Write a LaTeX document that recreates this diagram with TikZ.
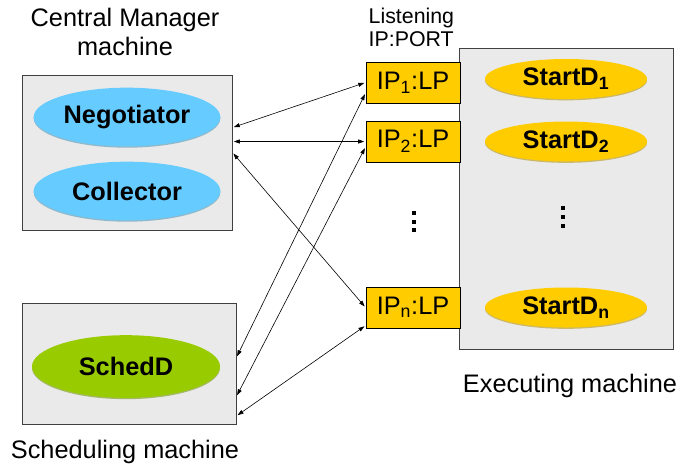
\documentclass[tikz,border=0pt]{standalone}
\usepackage{fontspec}
\setmainfont{Liberation Sans}
\usepackage{tikz}
\usetikzlibrary{arrows.meta, positioning, calc, shapes.geometric, shadows}
\definecolor{boxgray}{RGB}{234, 234, 234}
\definecolor{edgegray}{RGB}{64, 64, 64}
\definecolor{negoblue}{RGB}{102, 204, 255}
\definecolor{schedgreen}{RGB}{153, 204, 0}
\definecolor{portgold}{RGB}{255, 204, 0}

\tikzset{
    machine/.style={draw=edgegray, fill=boxgray, line width=0.7pt, inner sep=0pt},
    daemon/.style={ellipse, fill=#1, inner sep=0pt,
        font=\fontsize{19}{22}\selectfont\bfseries,
        drop shadow={shadow xshift=0pt, shadow yshift=-1pt, fill=#1!70!black, opacity=0.55}},
    portbox/.style={draw=black, fill=portgold, line width=0.7pt, inner sep=0pt,
        minimum width=70.5pt, minimum height=30.75pt, font=\fontsize{19}{22}\selectfont},
    machinetext/.style={font=\fontsize{19}{21.75}\selectfont, align=center},
    link/.style={<->, line width=0.45pt, shorten <=1pt, shorten >=1pt},
}

\begin{document}
\begin{tikzpicture}[x=0.75pt, y=-0.75pt, >={Triangle[length=4.5pt, width=3pt]}]
    \useasboundingbox (0,0) rectangle (680,469);

    % machines
    \node[machine, minimum width=157.5pt, minimum height=116.25pt] (cm) at (127,152.5) {};
    \node[machine, minimum width=160.5pt, minimum height=90.75pt] (sm) at (129,363.5) {};
    \node[machine, minimum width=160.5pt, minimum height=225.75pt] (em) at (566,198.5) {};

    % daemons
    \node[daemon=negoblue, minimum width=140pt, minimum height=44pt] (nego) at (127,117) {Negotiator};
    \node[daemon=negoblue, minimum width=140pt, minimum height=44pt] (coll) at (127,191) {Collector};
    \node[daemon=schedgreen, minimum width=141pt, minimum height=47pt] (schedd) at (126,366.5) {SchedD};
    \node[daemon=portgold, minimum width=121.5pt, minimum height=30pt] (sd1) at (566,79) {StartD\textsubscript{1}};
    \node[daemon=portgold, minimum width=121.5pt, minimum height=30pt] (sd2) at (566,141.5) {StartD\textsubscript{2}};
    \node[daemon=portgold, minimum width=121.5pt, minimum height=30pt] (sdn) at (566,307.5) {StartD\textsubscript{n}};

    % listening ports
    \node[portbox] (ip1) at (413,82.5) {IP\textsubscript{1}:LP};
    \node[portbox] (ip2) at (413,141.5) {IP\textsubscript{2}:LP};
    \node[portbox] (ipn) at (413,307.5) {IP\textsubscript{n}:LP};

    \foreach \y in {213,221.5,230} \fill (414,\y) ++(-2,-2) rectangle ++(4,4);
    \foreach \y in {207.5,216.5,225.5} \fill (563,\y) ++(-2,-2) rectangle ++(4,4);

    % captions
    \node[machinetext] (cmlabel) at (125,32) {Central Manager\\machine};
    \node[machinetext, font=\fontsize{16}{17.25}\selectfont, align=left, anchor=west] (portlabel) at (364,27) {Listening\\IP:PORT};
    \node[machinetext] (emlabel) at (570,386) {Executing machine};
    \node[machinetext] (smlabel) at (125,452) {Scheduling machine};

    % connections
    \draw[link] ($(cm.north east)!0.34!(cm.south east)$) -- (ip1.west);
    \draw[link] (cm.east |- ip2.west) -- (ip2.west);
    \draw[link] (cm.east) -- (ipn.west);
    \draw[link] ($(ip1.north west)!0.75!(ip1.south west)$) -- ($(sm.north east)!0.45!(sm.south east)$);
    \draw[link] ($(ip2.north west)!0.63!(ip2.south west)$) -- ($(sm.north east)!0.77!(sm.south east)$);
    \draw[link] ($(ipn.north west)!0.93!(ipn.south west)$) -- ($(sm.north east)!0.93!(sm.south east)$);
\end{tikzpicture}
\end{document}
